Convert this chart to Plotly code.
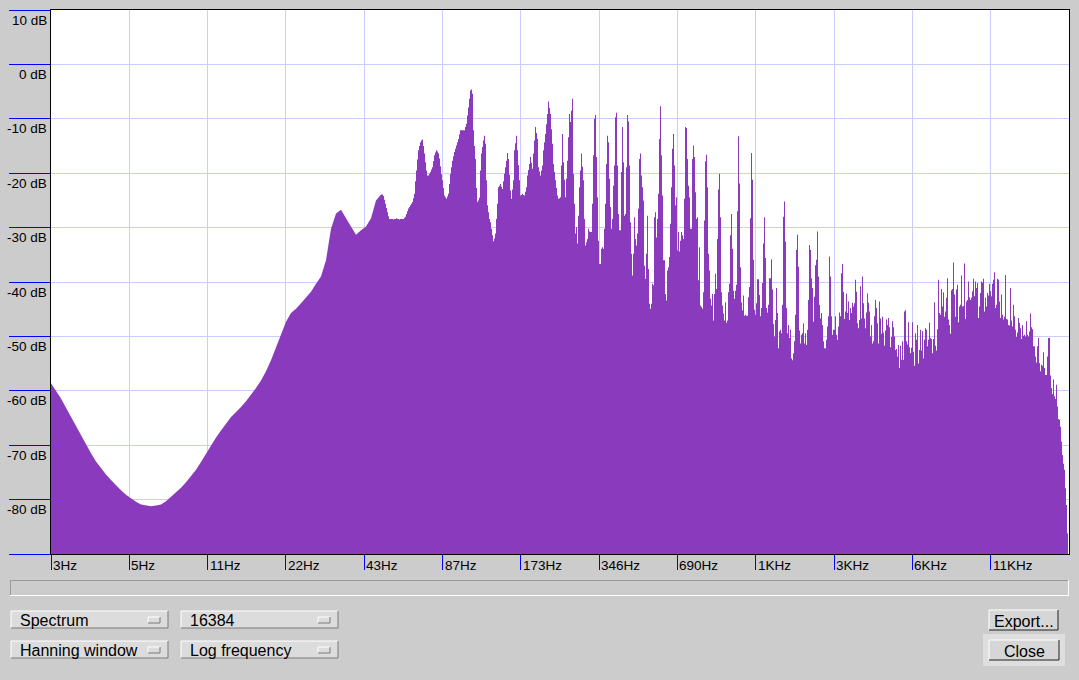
import math
import plotly.graph_objects as go

# ---------------- data ----------------
F_MIN_HZ = 22050 / 2 ** 13          # first analyser bin (left edge)
F_MAX_HZ = 22050                     # Nyquist (right edge)
COLUMNS_PER_OCTAVE = 1018 / 13       # analyser display columns per octave

# smooth low-frequency part, one level every LOW_STEP columns starting at column 0
LOW_STEP = 5
low_db = [
    -58.6, -60.0, -61.4, -63.1, -64.8, -66.5, -68.2, -69.9, -71.5, -73.0,
    -74.3, -75.4, -76.4, -77.4, -78.3, -79.1, -79.8, -80.4, -80.9, -81.1,
    -81.2, -81.1, -80.9, -80.3, -79.5, -78.7, -77.8, -76.8, -75.7, -74.5,
    -73.1, -71.6, -70.0, -68.6, -67.3, -66.0, -64.8, -63.9, -63.0, -61.9,
    -60.8, -59.5, -58.1, -56.4, -54.4, -52.0, -49.5, -47.3, -45.7, -44.9,
    -43.9, -42.9, -41.8, -40.3, -39.0, -36.0, -30.2, -27.4, -26.7, -28.3,
    -29.9, -31.3, -30.5, -29.8, -28.3, -25.0, -23.9,
]

# harmonic part, one level per display column starting at column HIGH_START
HIGH_START = 330
high_db = [
    -23.9,
    -23.9, -24.2, -24.9, -25.6, -26.4, -27.2, -27.9, -28.4, -28.4, -28.4,
    -28.4, -28.5, -28.4, -28.4, -28.3, -28.4, -28.4, -28.5, -28.4, -28.4,
    -28.4, -28.4, -28.2, -28.0, -27.5, -27.0, -26.5, -26.2, -25.9, -25.6,
    -25.3, -24.6, -23.8, -21.5, -19.5, -17.5, -15.8, -15.0, -14.3, -14.0,
    -13.8, -15.0, -16.4, -18.0, -19.5, -20.4, -20.4, -20.1, -19.8, -19.3,
    -18.9, -17.8, -16.7, -16.2, -15.8, -16.0, -16.4, -17.3, -18.7, -20.2,
    -21.3, -22.7, -24.1, -24.4, -24.7, -24.3, -23.8, -22.0, -20.1, -18.9,
    -17.7, -16.9, -16.1, -15.5, -14.9, -14.3, -13.7, -12.9, -12.1, -12.1,
    -12.1, -12.1, -12.1, -11.5, -10.9, -9.4, -7.9, -6.3, -4.8, -4.6,
    -5.4, -12.1, -15.0, -17.4, -22.7, -25.3, -25.0, -24.5, -19.5, -16.4,
    -15.2, -14.0, -13.1, -14.6, -21.3, -25.9, -27.2, -28.4, -29.0, -30.2,
    -31.4, -32.5, -32.0, -31.1, -28.4, -25.6, -22.6, -22.3, -22.0, -22.5,
    -22.9, -21.5, -20.1, -18.9, -17.7, -16.3, -17.4, -20.3, -23.2, -24.7,
    -23.0, -21.3, -15.8, -14.5, -13.1, -15.8, -18.5, -21.3, -24.1, -24.0,
    -23.8, -24.0, -24.1, -23.4, -22.6, -20.4, -19.4, -18.3, -17.0, -18.1,
    -19.2, -16.4, -14.0, -11.5, -12.6, -13.7, -18.9, -19.7, -20.4, -19.5,
    -18.6, -15.8, -14.3, -12.8, -11.0, -9.1, -6.8, -8.0, -9.1, -11.9,
    -14.6, -18.3, -19.8, -21.3, -22.7, -24.1, -24.7, -24.6, -24.4, -18.6,
    -12.8, -18.0, -21.2, -24.4, -21.0, -17.7, -13.4, -9.1, -10.6, -8.5,
    -6.3, -20.1, -25.6, -31.1, -29.9, -32.9, -27.8, -22.6, -19.5, -16.4,
    -18.8, -21.3, -28.4, -33.3, -32.7, -32.1, -30.2, -30.7, -30.8, -30.8,
    -25.6, -16.7, -10.0, -9.3, -17.0, -24.4, -32.4, -36.7, -36.7, -33.9,
    -33.6, -33.9, -30.2, -25.6, -18.3, -13.1, -14.3, -21.0, -26.2, -30.2,
    -28.4, -22.3, -18.6, -9.7, -8.9, -18.6, -27.5, -30.5, -30.5, -19.8,
    -11.5, -18.0, -27.8, -27.5, -18.9, -9.3, -10.5, -18.6, -29.0, -34.8,
    -38.8, -34.8, -28.1, -32.1, -33.3, -31.1, -26.5, -17.4, -16.4, -20.4,
    -22.6, -25.0, -37.0, -39.4, -34.8, -27.8, -37.6, -44.0, -44.9, -44.0,
    -40.3, -40.6, -28.1, -27.2, -31.8, -28.4, -23.8, -13.7, -7.7, -16.7,
    -24.1, -36.0, -36.0, -42.2, -43.4, -37.9, -37.3, -35.4, -29.3, -22.6,
    -15.5, -12.8, -18.6, -25.9, -24.4, -34.2, -30.8, -34.4, -32.4, -30.8,
    -31.4, -32.1, -24.7, -11.5, -11.7, -17.4, -22.3, -24.4, -30.2, -30.2,
    -17.4, -14.9, -17.0, -23.5, -28.4, -28.1, -39.7, -33.6, -44.3, -44.6,
    -44.9, -41.9, -28.7, -17.8, -16.6, -22.6, -34.8, -37.9, -43.1, -44.3,
    -42.2, -47.1, -42.2, -38.5, -41.3, -32.1, -23.0, -20.1, -28.1, -41.9,
    -44.3, -45.8, -47.1, -43.7, -47.5, -47.1, -41.9, -40.3, -31.4, -27.5,
    -33.9, -41.6, -43.1, -41.6, -40.5, -27.0, -13.2, -21.9, -37.3, -43.7,
    -45.2, -42.5, -46.2, -46.0, -46.2, -46.2, -42.8, -40.9, -28.3, -16.3,
    -21.2, -35.9, -45.1, -46.0, -43.9, -39.5, -39.5, -42.4, -46.3, -44.8,
    -40.2, -32.9, -28.1, -35.6, -44.8, -45.6, -44.2, -39.3, -39.3, -35.8,
    -41.4, -47.7, -50.0, -47.0, -41.1, -45.7, -52.2, -49.1, -48.8, -49.4,
    -44.2, -28.0, -25.2, -32.6, -44.8, -49.4, -47.9, -50.3, -48.8, -54.0,
    -54.4, -53.1, -50.9, -46.0, -34.1, -31.3, -37.2, -48.9, -51.3, -49.7,
    -49.4, -47.6, -51.3, -49.4, -51.6, -48.8, -43.3, -33.2, -34.1, -39.3,
    -41.1, -47.3, -42.7, -36.9, -35.9, -30.7, -39.0, -44.2, -46.7, -45.7,
    -47.9, -50.9, -52.2, -52.2, -50.6, -48.2, -46.3, -35.3, -39.0, -46.3,
    -49.7, -48.8, -48.8, -46.3, -49.7, -50.6, -48.2, -45.6, -46.3, -38.4,
    -36.7, -41.8, -46.8, -45.4, -42.1, -45.7, -43.6, -47.0, -44.8, -45.7,
    -43.8, -44.5, -43.9, -39.6, -41.8, -47.6, -48.5, -47.0, -40.8, -46.7,
    -39.0, -43.9, -46.7, -48.5, -45.6, -42.1, -43.8, -45.4, -50.0, -47.9,
    -51.3, -50.9, -46.3, -43.3, -44.8, -47.6, -51.3, -43.6, -46.7, -49.5,
    -46.4, -49.3, -51.7, -48.9, -46.9, -47.9, -46.6, -48.3, -52.0, -50.1,
    -47.2, -48.3, -50.0, -52.5, -52.3, -53.7, -51.6, -55.8, -51.7, -54.3,
    -50.9, -54.3, -45.4, -45.2, -50.9, -51.5, -47.4, -52.0, -53.1, -52.1,
    -47.4, -52.8, -55.4, -49.4, -50.6, -47.9, -55.0, -52.5, -48.8, -52.6,
    -49.0, -54.0, -50.6, -48.5, -48.8, -51.8, -50.6, -47.5, -50.3, -50.5,
    -53.1, -50.5, -43.7, -51.7, -52.6, -48.7, -39.6, -45.7, -46.0, -41.3,
    -44.5, -41.9, -46.4, -45.4, -42.9, -39.3, -46.9, -47.9, -49.5, -41.5,
    -41.3, -36.4, -42.3, -46.4, -41.4, -40.5, -47.4, -44.5, -44.2, -38.8,
    -44.5, -44.4, -36.6, -46.8, -43.6, -43.3, -39.9, -42.8, -43.3, -42.9,
    -41.7, -39.4, -42.6, -39.9, -41.1, -40.2, -46.6, -44.5, -42.0, -39.9,
    -40.1, -39.4, -45.4, -42.9, -44.5, -42.0, -42.5, -40.3, -41.7, -42.6,
    -40.3, -39.6, -38.2, -44.8, -44.2, -39.4, -39.6, -43.6, -46.6, -42.3,
    -46.0, -46.9, -46.4, -38.7, -46.8, -46.9, -47.9, -48.0, -41.1, -47.1,
    -48.2, -44.2, -46.3, -48.8, -50.1, -49.3, -46.6, -47.5, -48.5, -50.5,
    -47.9, -49.9, -49.7, -50.0, -47.2, -49.7, -50.0, -49.1, -45.8, -48.3,
    -48.7, -51.8, -51.8, -53.7, -54.8, -51.8, -50.3, -54.9, -56.4, -55.2,
    -55.4, -52.9, -55.8, -57.1, -57.1, -53.7, -50.3, -50.3, -57.2, -59.5,
    -60.6, -57.9, -61.0, -61.5, -58.9, -62.9, -65.2, -65.3, -66.6, -69.3,
    -71.8, -73.4, -74.5, -77.9, -81.0, -86.2, -89.9,
]

tick_hz = [22050 / 2 ** n for n in range(13, 0, -1)]
tick_labels = ["3Hz", "5Hz", "11Hz", "22Hz", "43Hz", "87Hz", "173Hz",
               "346Hz", "690Hz", "1KHz", "3KHz", "6KHz", "11KHz"]
db_ticks = [10, 0, -10, -20, -30, -40, -50, -60, -70, -80, -90]
db_labels = ["10 dB", "0 dB", "-10 dB", "-20 dB", "-30 dB", "-40 dB",
             "-50 dB", "-60 dB", "-70 dB", "-80 dB"]
DB_MIN, DB_MAX = -90, 10


def col_hz(c):
    return F_MIN_HZ * 2 ** (c / COLUMNS_PER_OCTAVE)


low_hz = [col_hz(i * LOW_STEP) for i in range(len(low_db))]
high_hz = [col_hz(HIGH_START + i) for i in range(len(high_db))]

# ---------------- style ----------------
BG = "#cccccc"
FILL = "#8a3bbd"
GRID = "#ccccff"
TICK = "#0000ff"
FONT = "Liberation Sans, Arial, sans-serif"

fig = go.Figure()
for hz, db, shape in ((low_hz, low_db, "linear"), (high_hz, high_db, "hv")):
    fig.add_trace(go.Scatter(x=[hz[0], hz[-1]], y=[DB_MIN, DB_MIN], mode="lines",
                             line=dict(width=0), hoverinfo="skip", showlegend=False))
    fig.add_trace(go.Scatter(x=hz, y=db, mode="lines", line=dict(width=0, shape=shape, color=FILL),
                             fill="tonexty", fillcolor=FILL, showlegend=False))

W, H = 1079, 680
L, R, T, B = 51, 1069, 10, 554


def pxx(x):
    return (x - L) / (R - L)


def pxy(y):
    return (B - y) / (B - T)


shapes = []
annotations = []


def rect(x0, y0, x1, y1, fill):
    shapes.append(dict(type="rect", xref="paper", yref="paper", x0=pxx(x0), x1=pxx(x1),
                       y0=pxy(y1), y1=pxy(y0), fillcolor=fill, line=dict(width=0), layer="above"))


def line(x0, y0, x1, y1, color):
    shapes.append(dict(type="line", xref="paper", yref="paper", x0=pxx(x0), x1=pxx(x1),
                       y0=pxy(y0), y1=pxy(y1), line=dict(color=color, width=1), layer="above"))


def bevel(x0, y0, x1, y1, face, light="#ffffff", dark="#7a7a7a"):
    rect(x0, y0, x1, y1, face)
    line(x0, y0, x1, y0, light)
    line(x0, y0, x0, y1, light)
    line(x0, y1, x1, y1, dark)
    line(x1, y0, x1, y1, dark)


def text(x, y, s, anchor="left", size=16):
    annotations.append(dict(xref="paper", yref="paper", x=pxx(x), y=pxy(y), text=s,
                            showarrow=False, xanchor=anchor, yanchor="middle",
                            font=dict(family=FONT, size=size, color="black")))


# sunken strip below the axis
line(10, 580.5, 1069, 580.5, "#9a9a9a")
line(10.5, 580, 10.5, 595, "#9a9a9a")
line(10, 595.5, 1069, 595.5, "#ffffff")
line(1068.5, 580, 1068.5, 595, "#ffffff")

# dropdown controls
for (x0, x1, y0, y1, label) in [(11, 168, 611, 628, "Spectrum"), (181, 338, 611, 628, "16384"),
                                (11, 168, 641, 658, "Hanning window"), (181, 338, 641, 658, "Log frequency")]:
    bevel(x0, y0, x1, y1, "#dcdcdc")
    bevel(x1 - 20, y0 + 6, x1 - 8, y0 + 12, "#dcdcdc")
    text(x0 + 7, (y0 + y1) / 2 + 1, label)

# buttons
rect(983, 634, 1065, 666, "#dedede")
bevel(989, 610, 1058, 630, "#d6d6d6", dark="#202020")
bevel(989, 640, 1059, 660, "#d6d6d6", dark="#202020")
text(1024, 621, "Export...", anchor="center")
text(1024, 651, "Close", anchor="center")

# axis labels (Audacity style: below / right of ticks)
for v, s in zip(db_ticks, db_labels):
    annotations.append(dict(xref="paper", yref="y", x=0, y=v, text=s, showarrow=False,
                            xanchor="right", yanchor="middle", xshift=-2, yshift=-10,
                            font=dict(family=FONT, size=13.5, color="black")))
for hz, s in zip(tick_hz, tick_labels):
    annotations.append(dict(xref="x", yref="paper", x=math.log10(hz), y=0, text=s,
                            showarrow=False, xanchor="left", yanchor="middle", xshift=0,
                            yshift=-11, font=dict(family=FONT, size=13.5, color="black")))

fig.update_layout(
    width=W, height=H, autosize=False,
    margin=dict(l=L, r=W - R, t=T, b=H - B, pad=0),
    paper_bgcolor=BG, plot_bgcolor="white",
    shapes=shapes, annotations=annotations,
    showlegend=False, hovermode=False,
)
fig.update_xaxes(type="log", range=[math.log10(F_MIN_HZ), math.log10(F_MAX_HZ)],
                 tickvals=tick_hz, showticklabels=False, ticks="outside", ticklen=15,
                 tickcolor=TICK, tickwidth=1, showgrid=True, gridcolor=GRID, gridwidth=1,
                 showline=True, linecolor="black", linewidth=1, mirror=True, zeroline=False)
fig.update_yaxes(range=[DB_MIN, DB_MAX], tickvals=db_ticks, showticklabels=False,
                 ticks="outside", ticklen=41, tickcolor=TICK, tickwidth=1,
                 showgrid=True, gridcolor=GRID, gridwidth=1,
                 showline=True, linecolor="black", linewidth=1, mirror=True, zeroline=False)

fig.write_html("out.html", config={"displayModeBar": False},
               post_script="document.body.style.margin='0';")
